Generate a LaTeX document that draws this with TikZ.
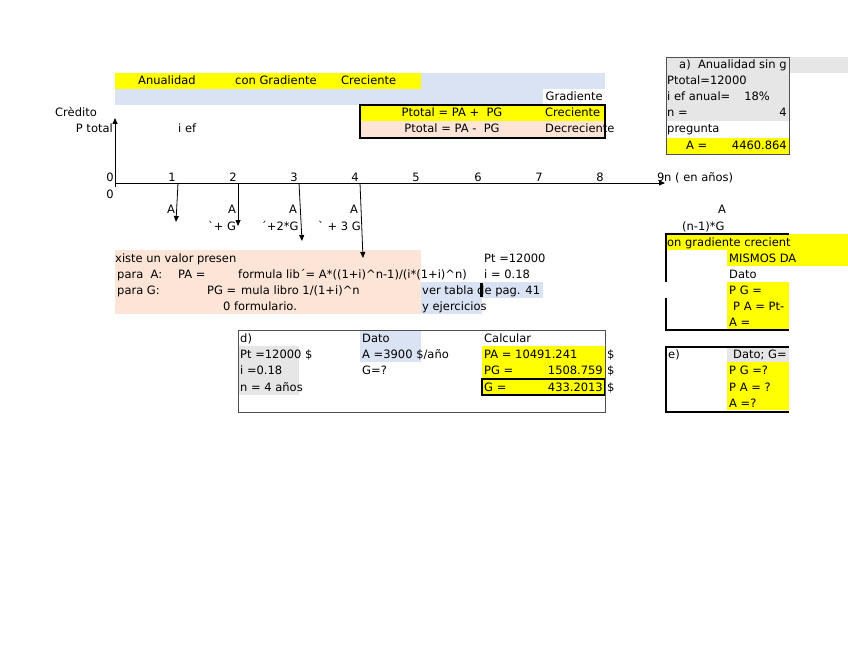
\documentclass[tikz,border=0pt]{standalone}
\usepackage{fontspec}
\setmainfont{DejaVu Sans}
\usetikzlibrary{arrows.meta}

\definecolor{celyellow}{HTML}{FFFF00}
\definecolor{celblue}{HTML}{DAE3F3}
\definecolor{celpink}{HTML}{FCE4D6}
\definecolor{celgrey}{HTML}{E7E6E6}
\definecolor{celline}{HTML}{505050}

\begin{document}
\begin{tikzpicture}[x=1pt, y=-1pt, font=\fontsize{11.5}{13}\selectfont, >={Triangle[length=6pt,width=5pt]},
  txt/.style={inner sep=0pt, anchor=base west},
  txtr/.style={inner sep=0pt, anchor=base east},
  txtc/.style={inner sep=0pt, anchor=base}]

  \useasboundingbox (0,0) rectangle (848,655);

  % cell fills
  \fill[celblue] (115,73) rectangle (605,105);
  \fill[white] (543,89) rectangle (605,105);
  \fill[celyellow] (115,73) rectangle (421,89);
  \fill[celyellow] (360,105) rectangle (605,121);
  \fill[celpink] (360,121) rectangle (605,138);
  \draw[line width=1.6pt] (360,105) rectangle (605,138);

  \fill[celgrey] (666,57) rectangle (848,73);
  \fill[celgrey] (666,73) rectangle (789,121);
  \fill[celyellow] (666,138) rectangle (789,154);
  \draw[celline, line width=0.8pt] (666,57) rectangle (789,154);

  \fill[celpink] (115,250) rectangle (421,314);
  \fill[celblue] (421,282) rectangle (543,298);
  \fill[celblue] (421,298) rectangle (482,314);
  \fill (480,283) rectangle (483,297);

  \fill[celyellow] (666,234) rectangle (848,250);
  \fill[celyellow] (727,250) rectangle (848,266);
  \fill[celyellow] (727,282) rectangle (789,330);
  \draw[line width=1.6pt] (666,282) -- (666,234) -- (789,234);
  \draw[line width=1.6pt] (666,298) -- (666,330) -- (789,330);

  \fill[celgrey] (727,347) rectangle (789,362);
  \fill[celyellow] (727,362) rectangle (789,410);
  \draw[line width=1.6pt] (789,347) -- (666,347) -- (666,412) -- (789,412);

  \fill[celgrey] (238,346) rectangle (299,395);
  \fill[celblue] (360,330) rectangle (421,362);
  \fill[celyellow] (482,346) rectangle (605,395);
  \draw[line width=1.2pt] (482,379) rectangle (605,395);
  \draw[celline, line width=0.8pt] (238,330) rectangle (605,412);

  % title rows
  \node[txt] (tAnual) at (138,85) {Anualidad};
  \node[txt] (tGrad) at (235,85) {con Gradiente};
  \node[txt] (tCrec) at (341,85) {Creciente};
  \node[txtr] (tGradiente) at (603,101) {Gradiente};
  \node[txtc] (tSuma) at (452,117) {Ptotal = PA +\ \ PG};
  \node[txt] (tCrec2) at (545,117) {Creciente};
  \node[txtc] (tResta) at (452,133) {Ptotal = PA -\ \ PG};
  \node[txt] (tDecrec) at (545,133) {Decreciente};
  \node[txt] (tCredito) at (55,117) {Crèdito};
  \node[txtr] (tPtotal) at (113,133) {P total};
  \node[txt] (tIef) at (178,133) {i ef};

  % a) panel
  \node[txt] (aTit) at (679,69) {a)\ \ Anualidad sin g};
  \node[txt] (aPt) at (667,85) {Ptotal=12000};
  \node[txt] (aIef) at (667,101) {i ef anual=};
  \node[txtr] (aIval) at (770,101) {18\%};
  \node[txt] (aN) at (667,117) {n =};
  \node[txtr] (aNval) at (787,117) {4};
  \node[txt] (aPreg) at (667,133) {pregunta};
  \node[txt] (aA) at (686,150) {A =};
  \node[txtr] (aAval) at (787,150) {4460.864};

  % time line
  \coordinate (o) at (115,187);
  \coordinate (ytop) at (115,118);
  \coordinate (x0) at (115,183);
  \coordinate (xend) at (665,183);
  \draw[->, line width=0.9pt] (o) -- (ytop);
  \draw[->, line width=0.9pt] (x0) -- (xend);
  \node[txtc] (z0) at (110,182) {0};
  \node[txtc] (z00) at (110,198) {0};
  \foreach \k/\px in {1/172,2/233,3/294,4/355,5/416,6/478,7/539,8/600}
    \node[txtc] (n\k) at (\px,182) {\k};
  \node[txt] (n9) at (657,182) {9};
  \node[txt] (nUnit) at (664,182) {n ( en años)};

  \coordinate (p1) at (178,183);
  \coordinate (p2) at (238,183);
  \coordinate (p3) at (299,183);
  \coordinate (p4) at (360,183);
  \coordinate (q1) at (176,222);
  \coordinate (q2) at (238,226);
  \coordinate (q3) at (302,241);
  \coordinate (q4) at (363,258);
  \foreach \k in {1,2,3,4}
    \draw[->, line width=0.8pt] (p\k) -- (q\k);

  \foreach \k/\px in {1/171,2/232,3/293,4/354}
    \node[txtc] (A\k) at (\px,214) {A};
  \node[txt] (g2) at (208,230) {\textasciigrave+ G};
  \node[txt] (g3) at (261,230) {´+2*G};
  \node[txt] (g4) at (318,230) {\textasciigrave\ + 3 G};
  \node[txtc] (An) at (722,214) {A};
  \node[txt] (gn) at (682,230) {(n-1)*G};

  % formulas
  \node[txt] (fXiste) at (115,262) {xiste un valor presen};
  \node[txt] (fParaA) at (117,278) {para\ \ A:};
  \node[txt] (fPA) at (178,278) {PA =};
  \node[txt] (fFormA) at (238,278) {formula lib´= A*((1+i)\^{}n-1)/(i*(1+i)\^{}n)};
  \node[txt] (fParaG) at (117,294) {para G:};
  \node[txt] (fPG) at (207,294) {PG =};
  \node[txt] (fFormG) at (241,294) {mula libro 1/(1+i)\^{}n};
  \node[txt] (fForm0) at (223,310) {0 formulario.};
  \node[txt] (fPt) at (484,262) {Pt =12000};
  \node[txt] (fI) at (484,278) {i = 0.18};
  \node[txt] (fTabla) at (422,294) {ver tabla de pag. 41};
  \node[txt] (fEjer) at (422,310) {y ejercicios};

  % gradiente creciente panel
  \node[txt] (cTit) at (667,246) {on gradiente crecient};
  \node[txt] (cMis) at (729,262) {MISMOS DA};
  \node[txt] (cDato) at (729,278) {Dato};
  \node[txt] (cPG) at (729,294) {P G =};
  \node[txt] (cPA) at (733,310) {P A = Pt-};
  \node[txt] (cA) at (729,326) {A =};

  % d) panel
  \node[txt] (dTit) at (240,342) {d)};
  \node[txt] (dPt) at (240,358) {Pt =12000 \$};
  \node[txt] (dI) at (240,374) {i =0.18};
  \node[txt] (dN) at (240,391) {n = 4 años};
  \node[txt] (dDato) at (362,342) {Dato};
  \node[txt] (dA) at (362,358) {A =3900 \$/año};
  \node[txt] (dG) at (362,374) {G=?};
  \node[txt] (dCalc) at (484,342) {Calcular};
  \node[txt] (dPA) at (484,358) {PA = 10491.241};
  \node[txt] (dPG) at (484,374) {PG =};
  \node[txtr] (dPGv) at (603,374) {1508.759};
  \node[txt] (dGr) at (484,391) {G =};
  \node[txtr] (dGv) at (603,391) {433.2013};
  \foreach \k/\py in {1/358,2/374,3/391}
    \node[txt] (dol\k) at (607,\py) {\$};

  % e) panel
  \node[txt] (eTit) at (668,358) {e)};
  \node[txt] (eDato) at (733,358) {Dato; G=};
  \node[txt] (ePG) at (729,374) {P G =?};
  \node[txt] (ePA) at (729,391) {P A = ?};
  \node[txt] (eA) at (729,407) {A =?};

\end{tikzpicture}
\end{document}
